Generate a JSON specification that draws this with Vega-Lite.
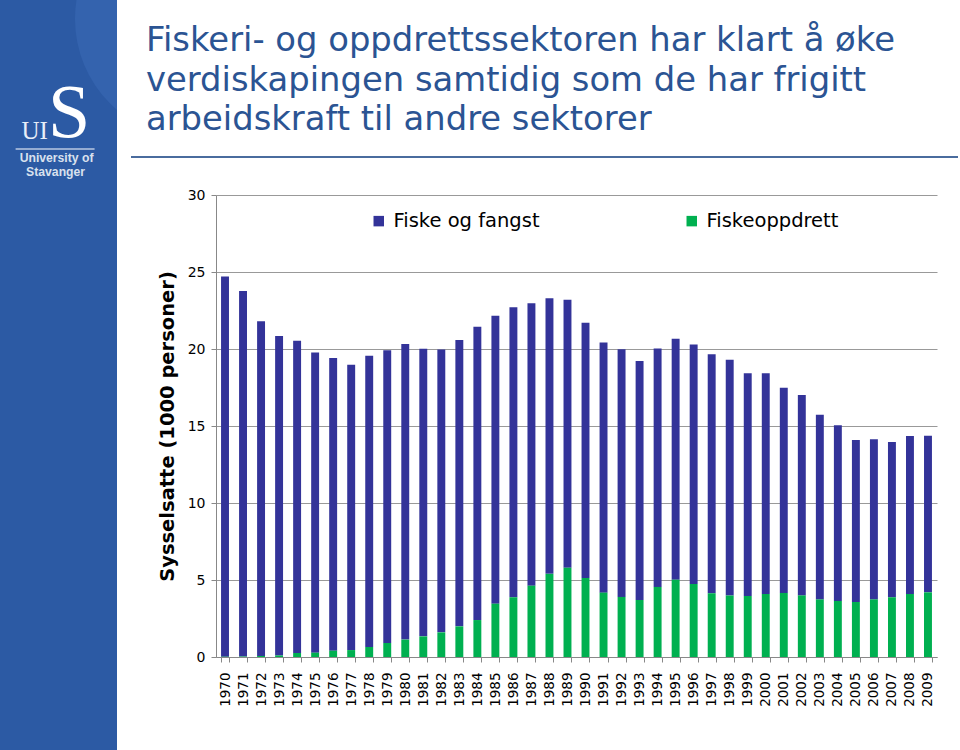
{
  "$schema": "https://vega.github.io/schema/vega-lite/v6.json",
  "padding": 0,
  "background": "white",
  "spacing": 13,
  "resolve": {"legend": {"color": "independent"}},
  "config": {"view": {"stroke": null}, "font": "DejaVu Sans"},
  "datasets": {
    "sysselsatte": [
      {"year": "1970", "Fiske og fangst": 24.68, "Fiskeoppdrett": 0.02},
      {"year": "1971", "Fiske og fangst": 23.74, "Fiskeoppdrett": 0.03},
      {"year": "1972", "Fiske og fangst": 21.73, "Fiskeoppdrett": 0.07},
      {"year": "1973", "Fiske og fangst": 20.74, "Fiskeoppdrett": 0.1},
      {"year": "1974", "Fiske og fangst": 20.28, "Fiskeoppdrett": 0.26},
      {"year": "1975", "Fiske og fangst": 19.5, "Fiskeoppdrett": 0.28},
      {"year": "1976", "Fiske og fangst": 19.01, "Fiskeoppdrett": 0.41},
      {"year": "1977", "Fiske og fangst": 18.53, "Fiskeoppdrett": 0.45},
      {"year": "1978", "Fiske og fangst": 18.91, "Fiskeoppdrett": 0.65},
      {"year": "1979", "Fiske og fangst": 19.01, "Fiskeoppdrett": 0.91},
      {"year": "1980", "Fiske og fangst": 19.19, "Fiskeoppdrett": 1.13},
      {"year": "1981", "Fiske og fangst": 18.68, "Fiskeoppdrett": 1.34},
      {"year": "1982", "Fiske og fangst": 18.36, "Fiskeoppdrett": 1.6},
      {"year": "1983", "Fiske og fangst": 18.59, "Fiskeoppdrett": 1.99},
      {"year": "1984", "Fiske og fangst": 19.05, "Fiskeoppdrett": 2.4},
      {"year": "1985", "Fiske og fangst": 18.7, "Fiskeoppdrett": 3.46},
      {"year": "1986", "Fiske og fangst": 18.83, "Fiskeoppdrett": 3.88},
      {"year": "1987", "Fiske og fangst": 18.34, "Fiskeoppdrett": 4.63},
      {"year": "1988", "Fiske og fangst": 17.89, "Fiskeoppdrett": 5.4},
      {"year": "1989", "Fiske og fangst": 17.4, "Fiskeoppdrett": 5.8},
      {"year": "1990", "Fiske og fangst": 16.58, "Fiskeoppdrett": 5.13},
      {"year": "1991", "Fiske og fangst": 16.25, "Fiskeoppdrett": 4.18},
      {"year": "1992", "Fiske og fangst": 16.08, "Fiskeoppdrett": 3.9},
      {"year": "1993", "Fiske og fangst": 15.52, "Fiskeoppdrett": 3.7},
      {"year": "1994", "Fiske og fangst": 15.49, "Fiskeoppdrett": 4.55},
      {"year": "1995", "Fiske og fangst": 15.65, "Fiskeoppdrett": 5.02},
      {"year": "1996", "Fiske og fangst": 15.56, "Fiskeoppdrett": 4.74},
      {"year": "1997", "Fiske og fangst": 15.52, "Fiskeoppdrett": 4.14},
      {"year": "1998", "Fiske og fangst": 15.31, "Fiskeoppdrett": 4.0},
      {"year": "1999", "Fiske og fangst": 14.46, "Fiskeoppdrett": 3.96},
      {"year": "2000", "Fiske og fangst": 14.33, "Fiskeoppdrett": 4.09},
      {"year": "2001", "Fiske og fangst": 13.33, "Fiskeoppdrett": 4.16},
      {"year": "2002", "Fiske og fangst": 13.01, "Fiskeoppdrett": 4.0},
      {"year": "2003", "Fiske og fangst": 11.99, "Fiskeoppdrett": 3.74},
      {"year": "2004", "Fiske og fangst": 11.41, "Fiskeoppdrett": 3.64},
      {"year": "2005", "Fiske og fangst": 10.52, "Fiskeoppdrett": 3.57},
      {"year": "2006", "Fiske og fangst": 10.4, "Fiskeoppdrett": 3.74},
      {"year": "2007", "Fiske og fangst": 10.08, "Fiskeoppdrett": 3.88},
      {"year": "2008", "Fiske og fangst": 10.26, "Fiskeoppdrett": 4.09},
      {"year": "2009", "Fiske og fangst": 10.17, "Fiskeoppdrett": 4.2}
    ],
    "logo": [{"big": "S", "small": "UI", "line1": "University of", "line2": "Stavanger"}]
  },
  "hconcat": [
    {
      "width": 117,
      "height": 750,
      "view": {"fill": "#2C5AA4", "stroke": null},
      "data": {"name": "logo"},
      "layer": [
        {
          "mark": {"type": "point", "filled": true, "shape": "circle", "color": "#3463AE", "opacity": 1, "size": 57600, "clip": true},
          "encoding": {
            "x": {"datum": 200, "type": "quantitative", "scale": {"domain": [0, 117]}, "axis": null},
            "y": {"datum": 20, "type": "quantitative", "scale": {"domain": [0, 750], "reverse": true}, "axis": null}
          }
        },
        {
          "mark": {"type": "text", "font": "Liberation Serif", "fontSize": 76, "color": "white", "align": "center", "baseline": "alphabetic"},
          "encoding": {
            "text": {"field": "big"},
            "x": {"datum": 71, "type": "quantitative"},
            "y": {"datum": 146, "type": "quantitative"}
          }
        },
        {
          "mark": {"type": "text", "font": "Liberation Serif", "fontSize": 25, "color": "#e8eef8", "align": "right", "baseline": "alphabetic"},
          "encoding": {
            "text": {"field": "small"},
            "x": {"datum": 49, "type": "quantitative"},
            "y": {"datum": 148, "type": "quantitative"}
          }
        },
        {
          "mark": {"type": "rule", "color": "#b9c8e2", "strokeWidth": 1.5},
          "encoding": {
            "x": {"datum": 16, "type": "quantitative"},
            "x2": {"datum": 97},
            "y": {"datum": 159, "type": "quantitative"}
          }
        },
        {
          "mark": {"type": "text", "font": "Liberation Sans", "fontSize": 12.2, "fontWeight": "bold", "color": "#d9e1ee", "align": "center", "baseline": "middle"},
          "encoding": {
            "text": {"field": "line1"},
            "x": {"datum": 58, "type": "quantitative"},
            "y": {"datum": 169, "type": "quantitative"}
          }
        },
        {
          "mark": {"type": "text", "font": "Liberation Sans", "fontSize": 12.2, "fontWeight": "bold", "color": "#d9e1ee", "align": "center", "baseline": "middle"},
          "encoding": {
            "text": {"field": "line2"},
            "x": {"datum": 57, "type": "quantitative"},
            "y": {"datum": 183, "type": "quantitative"}
          }
        }
      ]
    },
    {
      "spacing": 30,
      "resolve": {"legend": {"color": "independent"}},
      "vconcat": [
        {
          "width": 742,
          "height": 157,
          "title": {
            "text": ["Fiskeri- og oppdrettssektoren har klart å øke", "verdiskapingen samtidig som de har frigitt", "arbeidskraft til andre sektorer"],
            "anchor": "start",
            "frame": "group",
            "font": "DejaVu Sans",
            "fontSize": 33.8,
            "fontWeight": "normal",
            "lineHeight": 39.5,
            "color": "#2B5493",
            "offset": -137,
            "dx": -70
          },
          "data": {"values": [{}]},
          "mark": {"type": "rule", "color": "#4A6C9E", "strokeWidth": 2},
          "encoding": {
            "x": {"datum": -85, "type": "quantitative", "scale": {"domain": [0, 742]}, "axis": null},
            "x2": {"datum": 742},
            "y": {"datum": 0, "type": "quantitative", "scale": {"domain": [0, 1]}, "axis": null}
          }
        },
        {
          "width": 721,
          "height": 462,
          "data": {"name": "sysselsatte"},
          "transform": [{"fold": ["Fiske og fangst", "Fiskeoppdrett"], "as": ["serie", "antall"]}],
          "mark": {"type": "bar"},
          "encoding": {
            "x": {
              "field": "year",
              "type": "ordinal",
              "scale": {"paddingInner": 0.56, "paddingOuter": 0.28},
              "axis": {
                "title": null,
                "labelAngle": -90,
                "labelFont": "DejaVu Sans",
                "labelFontSize": 13.5,
                "labelColor": "#000000",
                "labelPadding": 10,
                "tickBand": "extent",
                "tickSize": 5,
                "tickColor": "#888888",
                "domainColor": "#888888",
                "grid": false
              }
            },
            "y": {
              "field": "antall",
              "type": "quantitative",
              "stack": "zero",
              "scale": {"domain": [0, 30], "nice": false},
              "axis": {
                "title": "Sysselsatte (1000 personer)",
                "titleFont": "DejaVu Sans",
                "titleFontSize": 19.5,
                "titleFontWeight": "bold",
                "titleColor": "#000000",
                "titlePadding": 10,
                "values": [0, 5, 10, 15, 20, 25, 30],
                "labelFont": "DejaVu Sans",
                "labelFontSize": 14,
                "labelColor": "#000000",
                "labelPadding": 6,
                "tickSize": 5,
                "tickColor": "#888888",
                "domainColor": "#888888",
                "grid": true,
                "gridColor": "#999999",
                "gridWidth": 1
              }
            },
            "color": {
              "field": "serie",
              "type": "nominal",
              "scale": {"domain": ["Fiske og fangst", "Fiskeoppdrett"], "range": ["#333399", "#00B050"]},
              "legend": {
                "title": null,
                "orient": "none",
                "legendX": 153,
                "legendY": 16,
                "direction": "horizontal",
                "columns": 2,
                "columnPadding": 142,
                "symbolType": "square",
                "symbolSize": 110,
                "symbolStrokeWidth": 0,
                "labelFont": "DejaVu Sans",
                "labelFontSize": 19.5,
                "labelColor": "#000000",
                "labelOffset": 5,
                "labelLimit": 300
              }
            },
            "order": {"field": "serie", "sort": "descending"}
          }
        }
      ]
    }
  ]
}
